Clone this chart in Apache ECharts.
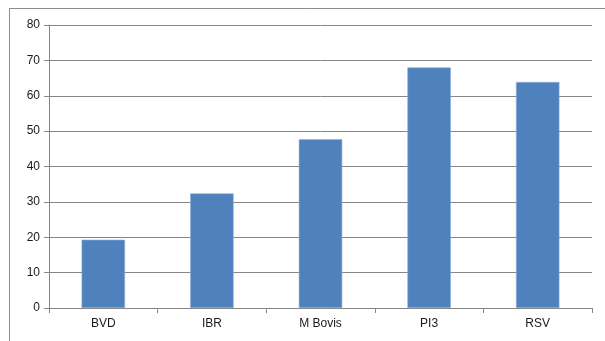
<!DOCTYPE html>
<html>
<head>
<meta charset="utf-8">
<script src="https://cdn.jsdelivr.net/npm/echarts@6/dist/echarts.min.js"></script>
<style>
  html, body { margin: 0; padding: 0; background: #fff; }
  #chart { width: 605px; height: 341px; }
</style>
</head>
<body>
<div id="chart"></div>
<script>
const categories = ['BVD', 'IBR', 'M Bovis', 'PI3', 'RSV'];
const values = [19.3, 32.4, 47.7, 68, 63.9];
const yTicks = [0, 10, 20, 30, 40, 50, 60, 70, 80];

const myChart = echarts.init(document.getElementById('chart'));
const labelFont = { color: '#1a1a1a', fontSize: 12, fontFamily: 'Liberation Sans' };
const option = {
  animation: false,
  graphic: [{
    type: 'rect',
    shape: { x: 9.5, y: 8.5, width: 620, height: 360 },
    style: { fill: 'none', stroke: '#8c8c8c', lineWidth: 1 },
    silent: true
  }],
  grid: { left: 49, right: 13, top: 25, bottom: 33 },
  xAxis: {
    type: 'category',
    data: categories,
    axisLine: { lineStyle: { color: '#868686' } },
    axisTick: { show: true, length: 5, lineStyle: { color: '#868686' } },
    axisLabel: Object.assign({ margin: 10 }, labelFont)
  },
  yAxis: {
    type: 'value',
    min: yTicks[0],
    max: yTicks[yTicks.length - 1],
    interval: 10,
    axisLine: { show: true, lineStyle: { color: '#868686' } },
    axisTick: { show: true, length: 5, lineStyle: { color: '#868686' } },
    splitLine: { lineStyle: { color: '#868686' } },
    axisLabel: Object.assign({ margin: 9 }, labelFont)
  },
  series: [{
    type: 'bar',
    data: values,
    barWidth: '40%',
    itemStyle: { color: '#4F81BD', borderColor: '#8db0dc', borderWidth: 0.6 }
  }]
};
myChart.setOption(option);
</script>
</body>
</html>
